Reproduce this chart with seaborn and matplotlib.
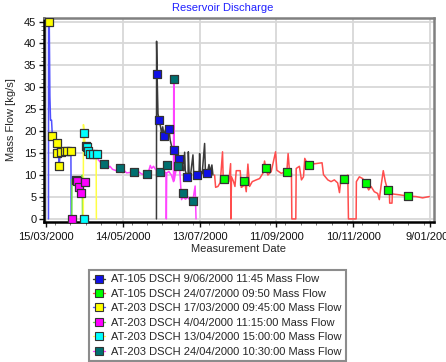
import pandas as pd
import matplotlib
matplotlib.use('Agg')
import matplotlib.pyplot as plt
import matplotlib.dates as mdates
from matplotlib.lines import Line2D
from matplotlib.ticker import MultipleLocator
import seaborn as sns

start = pd.Timestamp('2000-03-15')

# series labels
labels = ['AT-105 DSCH 9/06/2000 11:45 Mass Flow',
          'AT-105 DSCH 24/07/2000 09:50 Mass Flow',
          'AT-203 DSCH 17/03/2000 09:45:00 Mass Flow',
          'AT-203 DSCH 4/04/2000 11:15:00 Mass Flow',
          'AT-203 DSCH 13/04/2000 15:00:00 Mass Flow',
          'AT-203 DSCH 24/04/2000 10:30:00 Mass Flow']

# continuous traces (days after 15/03/2000, kg/s)
a105a_days = [86.3, 86.4, 86.8, 87.5, 88.3, 89.5, 90.3, 91.2, 92.2, 93.5, 95, 96.1, 97, 98.2, 99.8,
              101, 102.5, 103.9, 105, 106, 107.5, 108.3, 108.8, 110.1, 111, 111.2, 111.8, 113,
              114.8, 115.4, 117, 118.2, 119.5, 120, 120.6, 122, 123.9, 124.5, 126, 127.3, 128,
              129.6, 130.4]
a105a_flow = [0, 40.5, 33, 24, 22.5, 21, 19.5, 21, 19, 20.5, 19.5, 20.4, 18, 16.5, 15.6,
              14.5, 13.8, 13.7, 12.5, 11.5, 11, 15.2, 11, 9.8, 10.2, 15.3, 10.5, 10.2,
              14.6, 10.5, 10.1, 9.9, 10, 14.9, 10.5, 10.3, 17.2, 11, 10.4, 12.4, 10.8,
              12.3, 10]

a105b_days = [131.7, 132.5, 134.3, 136.1, 137.9, 138.4, 140.8, 142.8, 144.2, 144.4, 144.9, 146.5,
              147.6, 148.6, 151.7, 152.5, 153.8, 155.1, 156.4, 157.7, 159, 161.1, 164.2, 166.8,
              169.4, 170.7, 171.7, 173.3, 175.9, 179.3, 180.3, 183.7, 188.1, 189.1, 190.2, 191.7,
              192, 195.1, 195.4, 197.9, 199.5, 201.1, 202.1, 203.7, 205.2, 215.6, 216.7, 220.1,
              222.6, 225.2, 227.8, 229.2, 230.5, 232.5, 235.7, 236.2, 242.2, 242.4, 244.7, 247.3,
              249.6, 252, 253.8, 256.4, 259, 260.3, 261.6, 263.4, 265, 266.8, 268.1, 268.4, 270.2,
              270.5, 275.9, 283, 288.9, 294.1, 299.3]
a105b_flow = [10.0, 7.2, 7.4, 8.3, 15.3, 9.2, 9.6, 8.5, 12.6, 0, 9.6, 8.5,
              7.4, 11.0, 11.0, 7.2, 7.4, 8.6, 6.2, 12.5, 7.4, 8.5, 8.9, 9.2,
              10.4, 13.2, 11.5, 10.0, 10.8, 15.3, 11.1, 10.4, 10.8, 14.9, 10.8, 10.4,
              0, 0, 11.5, 12.0, 8.9, 9.6, 13.8, 12.8, 12.4, 12.8, 10.1, 8.9,
              8.5, 8.9, 8.2, 6.0, 9.6, 9.2, 10.0, 0, 0, 8.5, 9.6, 9.2,
              8.1, 6.6, 7.4, 6.2, 5.8, 4.4, 7.4, 11.0, 8.5, 6.6, 6.6, 3.6, 3.6,
              5.7, 5.5, 5.2, 5.1, 4.8, 5.1]

a203a_days = [2.0, 2.1, 2.6, 3.1, 3.6, 4.4, 5.0, 6.5, 8.0, 8.8, 9.2, 10.0, 10.4, 11.0, 11.7, 13.0,
              14.8, 16.5, 18.0, 19.5, 19.7]
a203a_flow = [0, 45, 45, 28, 22.5, 22.5, 19, 18, 17.5, 17.2, 15, 14, 12, 14.8, 15.3, 15.5,
              15.5, 15.5, 15.6, 16.2, 0]

a203b_days = [20.2, 20.3, 21.5, 23.0, 24.5, 25.7, 27.0, 28.0, 28.4, 28.6]
a203b_flow = [0, 9, 9, 8.8, 8, 7.3, 5.8, 8.4, 10, 0]

a203c_days = [29.2, 29.3, 30.0, 30.5, 31.0, 32.2, 33.0, 34.3, 36.6, 38.0, 39.2, 39.4]
a203c_flow = [0, 21.5, 19.5, 17, 16.7, 16.4, 15.5, 14.7, 14.7, 14.8, 14.5, 0]

a203d_days = [40.8, 43, 45, 48, 50, 52, 55, 57, 60, 63, 66, 68.8, 72, 75, 78.7, 80.5, 81.5, 82.5,
              84, 85.5, 88, 90, 92, 93.8, 94, 94.3, 96, 98, 99.6, 99.8, 100.1, 101.5, 103, 104.4,
              105.9, 107, 109, 111, 112.5, 114.6, 116.5, 117.2]
a203d_flow = [13.5, 12.8, 12.5, 11.5, 12, 11.3, 11, 11.5, 11.3, 10.5, 10.6, 10.6, 10.8, 10.2, 10.2,
              11.2, 12.2, 11.5, 12, 11.3, 11, 11.3, 10.8, 10.5, 0, 10.5, 10.8, 10, 8.5, 32, 8.7,
              11, 12, 11.5, 4.4, 5, 4.5, 5, 4.2, 4.0, 7.5, 0]

# sampled points (markers)
m105a_days = [86.8, 88.3, 92.2, 96.1, 99.8, 103.9, 110.1, 118.2, 126]
m105a_flow = [33.1, 22.5, 19, 20.4, 15.6, 13.7, 9.5, 9.9, 10.4]
m105b_days = [139, 155, 171.7, 188, 205.2, 232.5, 249.6, 266.8, 283]
m105b_flow = [9.2, 8.6, 11.5, 10.8, 12.4, 9.2, 8.2, 6.6, 5.2]
m203a_days = [2.6, 5.0, 8.8, 9.0, 10.4, 11.7, 14.8, 16.5, 19.7]
m203a_flow = [45, 19, 17.2, 15, 12, 15.3, 15.5, 15.5, 15.4]
m203b_days = [20.5, 23.4, 24.2, 25.7, 27.0, 30.2]
m203b_flow = [0, 8.8, 8.6, 7.3, 5.8, 8.4]
m203c_days = [30.1, 30.1, 31.0, 32.2, 33.0, 34.3, 36.6, 40.0]
m203c_flow = [0, 19.5, 16.7, 16.4, 15.5, 14.7, 14.7, 14.8]
m203d_days = [45, 58, 68.8, 78.7, 89, 94.5, 99.8, 103, 106.8, 114.6]
m203d_flow = [12.5, 11.5, 10.6, 10.2, 10.8, 12.4, 32, 12, 5.8, 4.0]

tick_days = [0, 60, 120, 180, 240, 300]

traces = [(a105a_days, a105a_flow), (a105b_days, a105b_flow), (a203a_days, a203a_flow),
          (a203b_days, a203b_flow), (a203c_days, a203c_flow), (a203d_days, a203d_flow)]
points = [(m105a_days, m105a_flow), (m105b_days, m105b_flow), (m203a_days, m203a_flow),
          (m203b_days, m203b_flow), (m203c_days, m203c_flow), (m203d_days, m203d_flow)]
line_cols = ['#3a3a3a', '#ff4d4d', '#5050ff', '#66dd44', '#ffff44', '#ff44ff']
mark_cols = ['#1010e8', '#00ff00', '#ffff00', '#ff00ff', '#00ffff', '#007070']

sns.set_style('white')
plt.rcParams['font.family'] = ['Liberation Sans', 'DejaVu Sans']

fig = plt.figure(figsize=(4.46, 3.62), dpi=100)
ax = fig.add_axes([44/446, 1-222/362, 390/446, 204/362])

def to_df(days, flow):
    return pd.DataFrame({'date': start + pd.to_timedelta(days, unit='D'), 'flow': flow})

for (d, f), c in zip(traces, line_cols):
    sns.lineplot(data=to_df(d, f), x='date', y='flow', color=c, lw=1.1,
                 estimator=None, sort=False, ax=ax, zorder=2)
for (d, f), c in zip(points, mark_cols):
    sns.scatterplot(data=to_df(d, f), x='date', y='flow', color=c, marker='s', s=40,
                    edgecolor='#333333', linewidth=0.9, ax=ax, zorder=3)

ax.set_xlim(start - pd.Timedelta(days=1.5), start + pd.Timedelta(days=303))
ax.set_ylim(-0.7, 45.8)
ax.set_xticks(start + pd.to_timedelta(tick_days, unit='D'))
ax.xaxis.set_minor_locator(mdates.DayLocator(interval=12))
ax.xaxis.set_major_formatter(mdates.DateFormatter('%-d/%m/%Y'))
ax.yaxis.set_major_locator(MultipleLocator(5))
ax.yaxis.set_minor_locator(MultipleLocator(1))
ax.grid(True, which='major', color='#d8d8d8', lw=1.3)
ax.set_axisbelow(True)
ax.tick_params(axis='x', which='major', pad=4)
ax.tick_params(axis='y', which='major', pad=2)
ax.tick_params(which='major', length=3.5, width=1, labelsize=8, colors='#111111',
               bottom=True, left=True)
ax.tick_params(which='minor', length=2, width=0.7, bottom=True, left=True, colors='#777777')
for side in ['left', 'bottom']:
    ax.spines[side].set_color('black')
    ax.spines[side].set_linewidth(1.8)
for side in ['top', 'right']:
    ax.spines[side].set_color('#808080')
    ax.spines[side].set_linewidth(1.8)

ax.set_xlabel('Measurement Date', fontsize=8, labelpad=1)
ax.set_ylabel('Mass Flow [kg/s]', fontsize=8, labelpad=6)
fig.text(0.5, 0.979, 'Reservoir Discharge', color='#2020ff', fontsize=8, ha='center', va='center')

handles = [Line2D([0], [0], color=lc, lw=1, marker='s', markersize=5.5, markerfacecolor=mc,
                  markeredgecolor='#333333', markeredgewidth=0.8)
           for lc, mc in zip(line_cols, mark_cols)]
leg = fig.legend(handles, labels, loc='upper left', bbox_to_anchor=(89/446, 1-270/362),
                 fontsize=8, frameon=True, fancybox=False, borderaxespad=0, handlelength=1.0,
                 handletextpad=0.6, labelspacing=0.4, borderpad=0.4)
leg.get_frame().set_edgecolor('#707070')
leg.get_frame().set_linewidth(1.5)

plt.savefig('out.png', dpi=100)
